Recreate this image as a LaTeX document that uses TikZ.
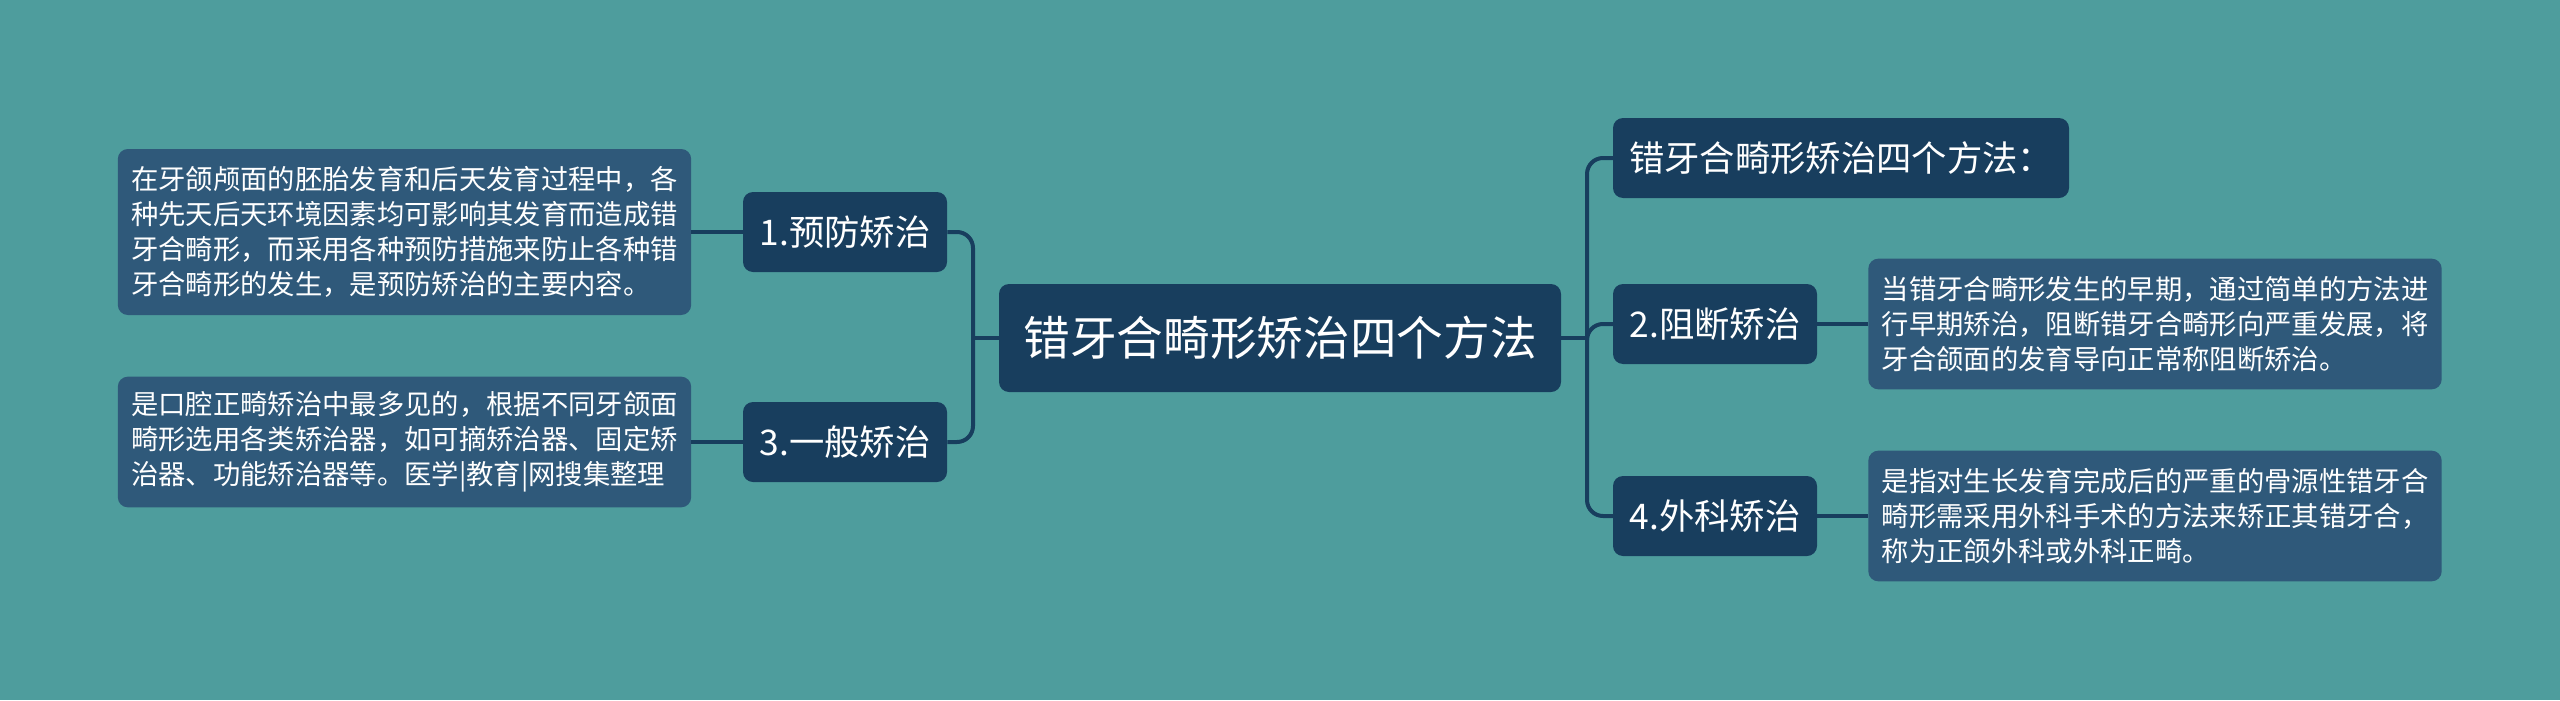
\documentclass[tikz,border=0pt]{standalone}
\usepackage{fontspec}
\setmainfont{Noto Sans CJK SC}
\usetikzlibrary{calc}
\definecolor{map-bg}{RGB}{78, 157, 157}
\definecolor{map-dark}{RGB}{24, 62, 94}
\definecolor{map-note}{RGB}{47, 89, 122}

\tikzset{
  topic/.style={fill=map-dark, rounded corners=7.5pt, text=white, inner sep=0pt},
  branch/.style={topic, minimum height=60pt, font=\fontsize{26.5pt}{30pt}\selectfont},
  note/.style={fill=map-note, rounded corners=7.5pt, text=white, inner sep=0pt,
    align=left, minimum width=430pt, font=\fontsize{20.5pt}{26.3pt}\selectfont},
  link/.style={draw=map-dark, line width=3pt, rounded corners=12pt}
}

\begin{document}
\begin{tikzpicture}[x=0.75pt, y=-0.75pt]
\fill[map-bg] (0,0) rectangle (2560,700);

\node[topic, minimum width=421.5pt, minimum height=81pt, font=\fontsize{35pt}{40pt}\selectfont] (root) at (1280,338) {错牙合畸形矫治四个方法};

% left side
\node[branch, minimum width=153pt] (prevent) at (845,232) {1.预防矫治};
\node[branch, minimum width=153pt] (general) at (845,442) {3.一般矫治};
\node[note, minimum height=124.5pt] (preventtxt) at (404.5,232) {在牙颌颅面的胚胎发育和后天发育过程中，各\\种先天后天环境因素均可影响其发育而造成错\\牙合畸形，而采用各种预防措施来防止各种错\\牙合畸形的发生，是预防矫治的主要内容。};
\node[note, minimum height=98pt] (generaltxt) at (404.5,442) {是口腔正畸矫治中最多见的，根据不同牙颌面\\畸形选用各类矫治器，如可摘矫治器、固定矫\\治器、功能矫治器等。医学|教育|网搜集整理};

% right side
\node[branch, text width=318pt, inner xsep=12pt, align=left] (methods) at (1841,158) {错牙合畸形矫治四个方法：};
\node[branch, minimum width=153pt] (block) at (1715,324) {2.阻断矫治};
\node[branch, minimum width=153pt] (surgery) at (1715,516) {4.外科矫治};
\node[note, minimum height=98pt] (blocktxt) at (2155,324) {当错牙合畸形发生的早期，通过简单的方法进\\行早期矫治，阻断错牙合畸形向严重发展，将\\牙合颌面的发育导向正常称阻断矫治。};
\node[note, minimum height=98pt] (surgerytxt) at (2155,516) {是指对生长发育完成后的严重的骨源性错牙合\\畸形需采用外科手术的方法来矫正其错牙合，\\称为正颌外科或外科正畸。};

\coordinate (lj) at (973,338);
\coordinate (rj) at (1587,338);

\draw[link] (root.west) -- (lj);
\draw[link] (lj) |- (prevent.east);
\draw[link] (lj) |- (general.east);
\draw[link] (prevent.west) -- (preventtxt.east);
\draw[link] (general.west) -- (generaltxt.east);

\draw[link] (root.east) -- (rj);
\draw[link] (rj) |- (methods.west);
\draw[link] (rj) |- (block.west);
\draw[link] (rj) |- (surgery.west);
\draw[link] (block.east) -- (blocktxt.west);
\draw[link] (surgery.east) -- (surgerytxt.west);
\end{tikzpicture}
\end{document}
